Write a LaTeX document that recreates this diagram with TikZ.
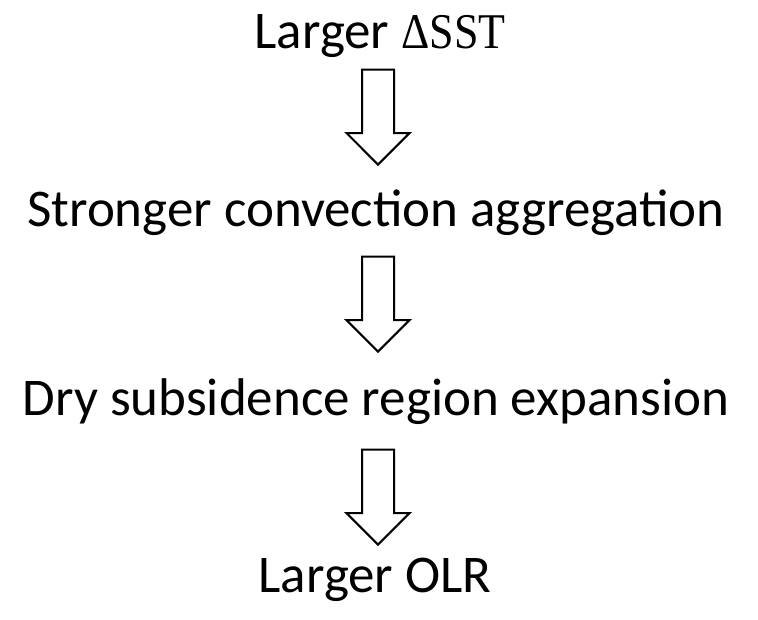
\documentclass[tikz,border=0pt]{standalone}
\usepackage{fontspec}
\setmainfont{Carlito}
\newfontfamily\symfont[FakeStretch=0.88]{Liberation Serif}
\usepackage{tikz}
\usetikzlibrary{shapes.arrows}
\tikzstyle{stage} = [inner sep=0pt, anchor=base, font=\fontsize{53}{60}\selectfont]
\tikzstyle{blockarrow} = [single arrow, draw=black, line width=2pt, fill=white, inner sep=15pt,
    shape border rotate=270, minimum height=95pt, minimum width=62pt, single arrow head extend=15.5pt,
    anchor=tip]

\begin{document}
\begin{tikzpicture}[x=1pt, y=1pt]
    \useasboundingbox (0,0) rectangle (758,-619);
    % Nodes
    \node (sst) [stage] at (380,-48) {Larger {\symfont\fontsize{50}{60}\selectfont ΔSST}};
    \node (conv) [stage] at (376,-226) {Stronger convection aggregation};
    \node (dry) [stage] at (376,-415) {Dry subsidence region expansion};
    \node (olr) [stage] at (375,-592) {Larger OLR};
    % Arrows
    \node (arr1) [blockarrow] at (378,-166) {};
    \node (arr2) [blockarrow] at (378,-353) {};
    \node (arr3) [blockarrow] at (378,-546) {};
\end{tikzpicture}
\end{document}
